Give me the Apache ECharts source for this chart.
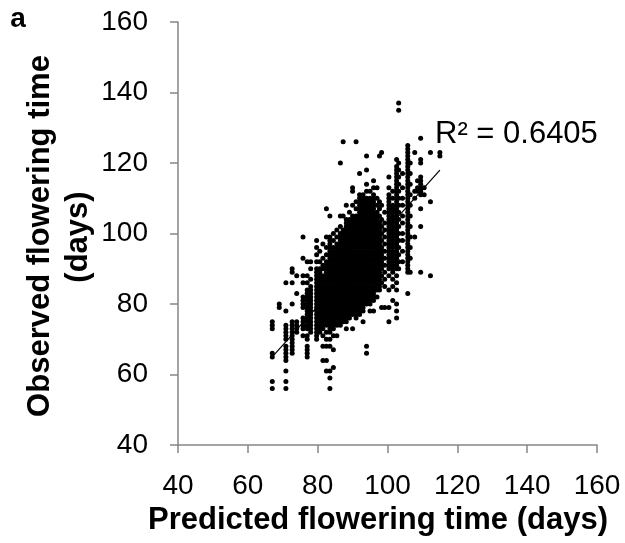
<!DOCTYPE html>
<html>
<head>
<meta charset="utf-8">
<script src="https://cdn.jsdelivr.net/npm/echarts@6/dist/echarts.min.js"></script>
<style>
  html, body { margin: 0; padding: 0; background: #fff; }
  #chart { width: 625px; height: 543px; }
</style>
</head>
<body>
<div id="chart"></div>
<script>
// predicted flowering time (days) - points fall in vertical strips
const predicted = [
  67, 69, 70.9, 72.7, 74, 75.8, 77, 78, 79.7, 80.6,
  81.5, 82.5, 83.5, 84.5, 85.5, 86.5, 87.3, 88.2, 89.1, 90,
  91, 92, 93, 94, 95, 96, 97, 97.7, 98.3, 99.2,
  100.4, 101.5, 102.6, 103.2, 104.3, 105.8, 106.5, 107.8, 108.6, 109.5,
  110.5, 112.3, 115
]
// observed flowering time (days) for each strip above
const observed = [
  [75, 74, 73, 66, 65, 58, 56],
  [80, 79],
  [86, 78, 74, 73, 72, 71, 70, 68, 67, 66, 65, 64, 61, 58, 56],
  [90, 89, 86, 80, 75, 74, 73, 72, 71, 70, 69, 68, 67, 66],
  [88, 83, 75, 74, 73, 72],
  [99, 93, 88, 86, 82, 81, 80, 79, 76, 75, 74, 73, 71],
  [92, 88, 86, 84, 83, 82, 81, 80, 79, 78, 77, 76, 75, 74, 73, 71, 70, 68, 67, 66, 65],
  [92, 90, 87, 85, 84, 83, 82, 81, 80, 79, 78, 77, 76, 75, 74, 73, 72],
  [98, 96, 94, 92, 90, 89, 88, 87, 86, 85, 84, 83, 82, 81, 80, 79, 78, 77, 76, 75, 74, 73, 72, 71, 70],
  [95, 92, 90, 89, 88, 87, 86, 85, 84, 83, 82, 81, 80, 79, 78, 77, 76, 75, 74, 73, 72],
  [97, 93, 91, 90, 88, 87, 86, 85, 84, 83, 82, 81, 80, 79, 78, 77, 76, 75, 74, 73, 71, 68, 64],
  [107, 99, 96, 94, 92, 91, 90, 89, 88, 87, 86, 85, 84, 83, 82, 81, 80, 79, 78, 77, 76, 75, 74, 72, 70, 68, 64, 61],
  [105, 99, 98, 97, 96, 95, 94, 93, 92, 91, 90, 89, 88, 87, 86, 85, 84, 83, 82, 81, 80, 79, 78, 77, 76, 75, 74, 73, 72, 70, 68, 61, 59, 56],
  [100, 98, 96, 95, 94, 93, 92, 91, 90, 89, 88, 87, 86, 85, 84, 83, 82, 81, 80, 79, 78, 77, 76, 75, 74, 73, 71, 67, 62],
  [101, 99, 97, 96, 95, 94, 93, 92, 91, 90, 89, 88, 87, 86, 85, 84, 83, 82, 81, 80, 79, 78, 77, 76, 75, 74, 71],
  [120, 105, 102, 100, 99, 98, 97, 96, 95, 94, 93, 92, 91, 90, 89, 88, 87, 86, 85, 84, 83, 82, 81, 80, 79, 78, 77, 76, 75, 74],
  [126, 105, 101, 100, 99, 98, 97, 96, 95, 94, 93, 92, 91, 90, 89, 88, 87, 86, 85, 84, 83, 82, 81, 80, 79, 78, 77, 76, 75],
  [108, 104, 103, 102, 101, 100, 99, 98, 97, 96, 95, 94, 93, 92, 91, 90, 89, 88, 87, 86, 85, 84, 83, 82, 81, 80, 79, 78, 77, 76, 75, 73],
  [106, 104, 103, 102, 101, 100, 99, 98, 97, 96, 95, 94, 93, 92, 91, 90, 89, 88, 87, 86, 85, 84, 83, 82, 81, 80, 79, 78, 77, 76],
  [113, 112, 108, 105, 104, 103, 102, 101, 100, 99, 98, 97, 96, 95, 94, 93, 92, 91, 90, 89, 88, 87, 86, 85, 84, 83, 82, 81, 80, 79, 78, 77, 73],
  [126, 109, 107, 105, 104, 103, 102, 101, 100, 99, 98, 97, 96, 95, 94, 93, 92, 91, 90, 89, 88, 87, 86, 85, 84, 83, 82, 81, 80, 79, 78, 77, 76],
  [117, 111, 110, 109, 108, 107, 106, 105, 104, 103, 102, 101, 100, 99, 98, 97, 96, 95, 94, 93, 92, 91, 90, 89, 88, 87, 86, 85, 84, 83, 82, 81, 80, 79, 78, 77],
  [111, 110, 109, 108, 107, 106, 105, 104, 103, 102, 101, 100, 99, 98, 97, 96, 95, 94, 93, 92, 91, 90, 89, 88, 87, 86, 85, 84, 83, 82, 81, 80, 79, 78, 75],
  [122, 118, 114, 112, 110, 109, 108, 107, 106, 105, 104, 103, 102, 101, 100, 99, 98, 97, 96, 95, 94, 93, 92, 91, 90, 89, 88, 87, 86, 85, 84, 83, 82, 81, 80, 68, 66],
  [112, 110, 109, 108, 107, 106, 105, 104, 103, 102, 101, 100, 99, 98, 97, 96, 95, 94, 93, 92, 91, 90, 89, 88, 87, 86, 85, 84, 83, 82, 81, 80, 78],
  [115, 113, 111, 110, 109, 108, 107, 106, 105, 104, 103, 102, 101, 100, 99, 98, 97, 96, 95, 94, 93, 92, 91, 90, 89, 88, 87, 86, 85, 84, 83, 82, 81, 78],
  [113, 110, 108, 106, 105, 104, 103, 102, 101, 100, 99, 98, 97, 96, 95, 94, 93, 92, 91, 90, 89, 88, 87, 86, 85, 84, 82],
  [122, 109, 107, 105, 103, 102, 101, 100, 99, 98, 97, 96, 95, 94, 93, 92, 91, 90, 89, 88, 87, 86, 85, 84],
  [123, 108, 104, 102, 100, 98, 96, 95, 94, 93, 92, 91, 90, 88, 86, 79],
  [106, 103, 101, 99, 97, 95, 93, 91, 89, 87, 85, 79],
  [116, 113, 111, 110, 109, 108, 107, 106, 105, 104, 103, 102, 101, 100, 99, 98, 97, 96, 95, 94, 93, 92, 91, 90, 88, 84, 79, 75],
  [112, 110, 108, 107, 106, 105, 104, 103, 102, 101, 100, 99, 98, 97, 96, 95, 94, 93, 92, 91, 90, 89, 87, 85, 81],
  [121, 119, 118, 117, 116, 115, 114, 113, 112, 111, 110, 109, 108, 107, 106, 105, 104, 103, 102, 101, 100, 99, 98, 97, 96, 95, 94, 93, 92, 91, 90, 88, 86, 84, 80, 78, 76],
  [137, 135, 120, 118, 116, 114, 112, 110, 108, 106, 104, 102, 100, 98, 96, 94, 92, 90],
  [117, 113, 110, 108, 105, 103, 100, 98, 95, 92],
  [125, 124, 123, 122, 121, 120, 119, 118, 117, 116, 115, 114, 113, 112, 111, 110, 109, 108, 107, 106, 105, 104, 103, 102, 101, 100, 99, 98, 97, 96, 95, 94, 93, 92, 91, 90, 89, 83],
  [120, 117, 114, 111, 108, 105, 102, 99, 96, 93, 89],
  [123, 112, 110, 99],
  [115, 113, 112],
  [127, 121, 120, 116, 115, 114, 113, 112, 111, 107, 102, 89],
  [113, 111],
  [123, 109, 88],
  [123, 122]
]
// end points of the fitted trend line
const fitX = [67, 115]
const fitY = [65, 118]
const rSquaredLabel = 'R² = 0.6405'

const points = []
predicted.forEach((x, i) => {
  observed[i].forEach(y => points.push([x, y]))
})

const chart = echarts.init(document.getElementById('chart'))
const axisColor = '#868686'
const font = 'Liberation Sans, Arial, sans-serif'

chart.setOption({
  animation: false,
  grid: {
    left: 178,
    right: 28,
    top: 22,
    bottom: 98
  },
  xAxis: {
    type: 'value',
    min: 40,
    max: 160,
    interval: 20,
    splitLine: { show: false },
    axisLine: { onZero: false, lineStyle: { color: axisColor, width: 1.5 } },
    axisTick: { length: 8, lineStyle: { color: axisColor, width: 1.5 } },
    axisLabel: { color: '#000', fontSize: 28, fontFamily: font, margin: 27 }
  },
  yAxis: {
    type: 'value',
    min: 40,
    max: 160,
    interval: 20,
    splitLine: { show: false },
    axisLine: { show: true, onZero: false, lineStyle: { color: axisColor, width: 1.5 } },
    axisTick: { show: true, length: 8, lineStyle: { color: axisColor, width: 1.5 } },
    axisLabel: { color: '#000', fontSize: 28, fontFamily: font, margin: 30 }
  },
  graphic: [
    {
      type: 'text', x: 18, y: 19,
      style: { text: 'a', fontSize: 28, fontWeight: 'bold', fontFamily: font, fill: '#000', textAlign: 'center', textVerticalAlign: 'middle' }
    },
    {
      type: 'text', x: 40, y: 236, rotation: Math.PI / 2,
      style: { text: 'Observed flowering time', fontSize: 31, fontWeight: 'bold', fontFamily: font, fill: '#000', textAlign: 'center', textVerticalAlign: 'middle' }
    },
    {
      type: 'text', x: 78, y: 237, rotation: Math.PI / 2,
      style: { text: '(days)', fontSize: 31, fontWeight: 'bold', fontFamily: font, fill: '#000', textAlign: 'center', textVerticalAlign: 'middle' }
    },
    {
      type: 'text', x: 378, y: 520,
      style: { text: 'Predicted flowering time (days)', fontSize: 31, fontWeight: 'bold', fontFamily: font, fill: '#000', textAlign: 'center', textVerticalAlign: 'middle' }
    },
    {
      type: 'text', x: 435, y: 134,
      style: { text: rSquaredLabel, fontSize: 31, fontFamily: font, fill: '#000', textAlign: 'left', textVerticalAlign: 'middle' }
    }
  ],
  series: [
    {
      type: 'scatter',
      data: points,
      symbol: 'circle',
      symbolSize: 5,
      itemStyle: { color: '#000', opacity: 1 },
      silent: true
    },
    {
      type: 'line',
      data: fitX.map((x, i) => [x, fitY[i]]),
      symbol: 'none',
      lineStyle: { color: '#000', width: 1.2 },
      silent: true
    }
  ]
})
</script>
</body>
</html>
